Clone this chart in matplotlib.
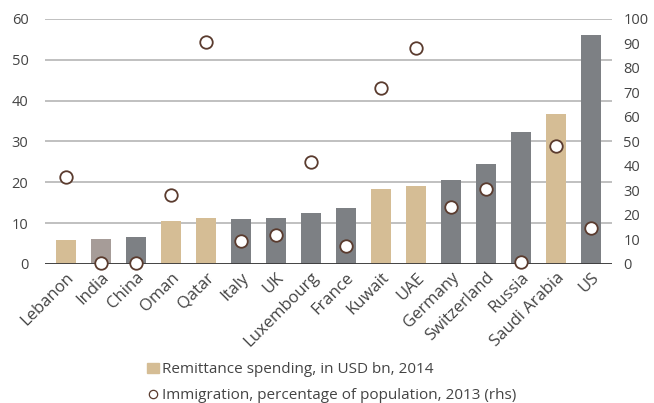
import matplotlib
matplotlib.use("Agg")
import matplotlib.pyplot as plt
from matplotlib.patches import Patch
from matplotlib.lines import Line2D
import numpy as np

plt.rcParams['font.family'] = ['Open Sans', 'DejaVu Sans']

countries = ["Lebanon", "India", "China", "Oman", "Qatar", "Italy", "UK", "Luxembourg",
             "France", "Kuwait", "UAE", "Germany", "Switzerland", "Russia", "Saudi Arabia", "US"]
remittance = [5.9, 6.0, 6.6, 10.5, 11.3, 11.0, 11.3, 12.5,
              13.7, 18.4, 19.1, 20.6, 24.5, 32.4, 36.8, 56.1]
immigration = [35.5, 0.3, 0.3, 28.2, 90.6, 9.4, 11.8, 41.6,
               7.3, 71.8, 88.2, 23.3, 30.6, 0.8, 48.2, 14.7]
group = ["gulf", "india", "other", "gulf", "gulf", "other", "other", "other",
         "other", "gulf", "gulf", "other", "other", "other", "gulf", "other"]

colors = {"gulf": "#d5bd95", "india": "#a69c98", "other": "#7d8084"}
bar_colors = [colors[g] for g in group]

fig = plt.figure(figsize=(6.54, 4.03), dpi=100)
ax = fig.add_axes([0.069, 0.345, 0.867, 0.608])
x = np.arange(len(countries))

ax.bar(x, remittance, width=0.57, color=bar_colors, zorder=2)
ax.set_ylim(0, 60)
ax.set_yticks(range(0, 61, 10))
ax.set_xlim(-0.6, len(countries) - 0.4)
ax.yaxis.grid(True, color="#b5b5b5", linewidth=1.2, zorder=0)
ax.set_axisbelow(True)
ax.axhline(0, color="#3a3a3a", linewidth=1.3, zorder=3)
for s in ax.spines.values():
    s.set_visible(False)
ax.tick_params(axis="both", length=0, labelsize=10.5, colors="#444444")
ax.tick_params(axis="y", pad=12)
ax.tick_params(axis="x", pad=4)
ax.set_xticks(x)
ax.set_xticklabels(countries, rotation=45, ha="right", rotation_mode="anchor", fontsize=12)

ax2 = ax.twinx()
ax2.set_ylim(0, 100)
ax2.set_yticks(range(0, 101, 10))
for s in ax2.spines.values():
    s.set_visible(False)
ax2.tick_params(axis="y", length=0, labelsize=10.5, colors="#444444", pad=8)
ax2.plot(x, immigration, "o", markersize=9, markerfacecolor="white",
         markeredgecolor="#5a3b2e", markeredgewidth=1.3, zorder=5, clip_on=False)

handles = [Patch(color=colors["gulf"]),
           Line2D([], [], marker="o", linestyle="none", markersize=6,
                  markerfacecolor="white", markeredgecolor="#5a3b2e", markeredgewidth=0.9)]
labels = ["Remittance spending, in USD bn, 2014",
          "Immigration, percentage of population, 2013 (rhs)"]
fig.legend(handles, labels, loc="upper left", bbox_to_anchor=(0.203, 0.135), frameon=False,
           fontsize=11, handlelength=0.8, handletextpad=0.2, labelspacing=0.72,
           labelcolor="#444444")

fig.savefig("out.png", dpi=100)
